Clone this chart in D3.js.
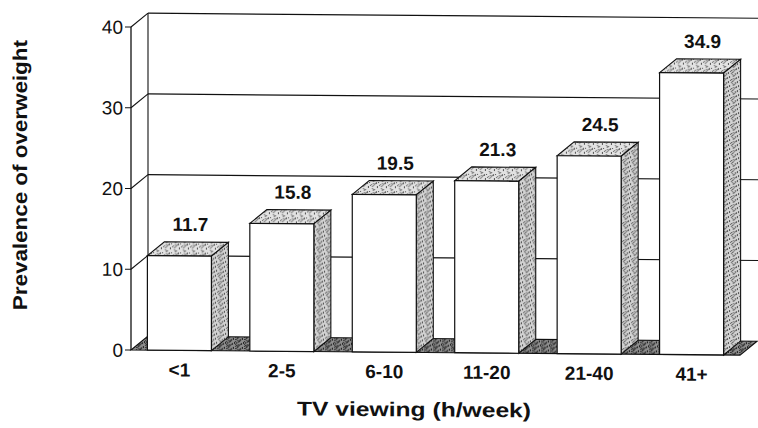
<!DOCTYPE html>
<html>
<head>
<meta charset="utf-8">
<script src="https://cdn.jsdelivr.net/npm/d3@7"></script>
<style>
  body { margin: 0; background: #fff; }
  text { font-family: "Liberation Sans", Arial, sans-serif; fill: #111; }
</style>
</head>
<body>
<svg id="chart" width="758" height="428"></svg>
<script>
// data
var categories = ["<1", "2-5", "6-10", "11-20", "21-40", "41+"];
var prevalence = [11.7, 15.8, 19.5, 21.3, 24.5, 34.9];
var yTicks = [0, 10, 20, 30, 40];

var svg = d3.select("#chart"),
    depth = {x: 17, y: -14},
    front = {left: 131, right: 740, bottom: 350, top: 27};

var x = d3.scaleBand()
    .domain(categories)
    .range([front.left, front.right])
    .paddingInner(0.375)
    .paddingOuter(0.16);
var y = d3.scaleLinear()
    .domain([0, 40])
    .range([front.bottom, front.top]);

// stipple patterns (deterministic dot texture, like the scanned print)
var defs = svg.append("defs");
function stipple(id, base, n, dot) {
    var s = 9;
    var p = defs.append("pattern")
        .attr("id", id)
        .attr("patternUnits", "userSpaceOnUse")
        .attr("width", s).attr("height", s);
    p.append("rect").attr("width", s).attr("height", s).attr("fill", base);
    for (var i = 0; i < n; i++) {
        p.append("rect")
            .attr("x", (i * 5 + (i * i) % 7) % s)
            .attr("y", (i * 7 + (i * 3) % 4) % s)
            .attr("width", 1).attr("height", 1)
            .attr("fill", dot);
    }
}
stipple("sideTex", "#d2d2d2", 22, "#555");
stipple("topTex", "#e2e2e2", 16, "#555");
stipple("floorTex", "#8e8e8e", 32, "#222");

// scanned page is slightly sheared: horizontals drop ~5px across the width
var g = svg.append("g")
    .attr("transform", "translate(131,0) skewY(0.48) translate(-131,0)");

function poly(pts) { return "M" + pts.map(function (p) { return p.join(","); }).join("L") + "Z"; }

// back wall gridlines + side-wall connectors
var bx0 = front.left + depth.x;
g.selectAll(".grid").data(yTicks.slice(1)).enter().append("line")
    .attr("class", "grid")
    .attr("x1", bx0).attr("x2", 758)
    .attr("y1", function (d) { return y(d) + depth.y; })
    .attr("y2", function (d) { return y(d) + depth.y; })
    .attr("stroke", "#111").attr("stroke-width", 1.2);
g.selectAll(".conn").data(yTicks.slice(1)).enter().append("line")
    .attr("class", "conn")
    .attr("x1", front.left).attr("x2", bx0)
    .attr("y1", function (d) { return y(d); })
    .attr("y2", function (d) { return y(d) + depth.y; })
    .attr("stroke", "#111").attr("stroke-width", 1.1);
g.append("line")
    .attr("x1", bx0).attr("x2", bx0)
    .attr("y1", y(40) + depth.y).attr("y2", y(0) + depth.y)
    .attr("stroke", "#111").attr("stroke-width", 1.1);

// floor
g.append("path")
    .attr("d", poly([[front.left, y(0)], [front.right, y(0)],
        [front.right + depth.x, y(0) + depth.y], [bx0, y(0) + depth.y]]))
    .attr("fill", "url(#floorTex)")
    .attr("stroke", "#111").attr("stroke-width", 1.1);

// front y axis
g.append("line")
    .attr("x1", front.left).attr("x2", front.left)
    .attr("y1", y(40)).attr("y2", y(0))
    .attr("stroke", "#111").attr("stroke-width", 1.3);
g.selectAll(".tick").data(yTicks).enter().append("line")
    .attr("class", "tick")
    .attr("x1", front.left - 6).attr("x2", front.left)
    .attr("y1", function (d) { return y(d); })
    .attr("y2", function (d) { return y(d); })
    .attr("stroke", "#111").attr("stroke-width", 1.1);
g.selectAll(".tickLabel").data(yTicks).enter().append("text")
    .attr("class", "tickLabel")
    .attr("x", front.left - 8)
    .attr("y", function (d) { return y(d); })
    .attr("dy", "0.36em")
    .attr("text-anchor", "end")
    .style("font-size", "19px")
    .text(function (d) { return d; });

// 3D bars
var bw = x.bandwidth();
var bars = g.selectAll(".bar").data(prevalence).enter().append("g")
    .attr("class", "bar");
bars.append("path")
    .attr("d", function (d, i) {
        var l = x(categories[i]), t = y(d);
        return poly([[l, t], [l + bw, t], [l + bw + depth.x, t + depth.y], [l + depth.x, t + depth.y]]);
    })
    .attr("fill", "url(#topTex)").attr("stroke", "#111").attr("stroke-width", 1.1);
bars.append("path")
    .attr("d", function (d, i) {
        var r = x(categories[i]) + bw, t = y(d), b = y(0);
        return poly([[r, t], [r + depth.x, t + depth.y], [r + depth.x, b + depth.y], [r, b]]);
    })
    .attr("fill", "url(#sideTex)").attr("stroke", "#111").attr("stroke-width", 1.1);
bars.append("rect")
    .attr("x", function (d, i) { return x(categories[i]); })
    .attr("y", function (d) { return y(d); })
    .attr("width", bw)
    .attr("height", function (d) { return y(0) - y(d); })
    .attr("fill", "#fff").attr("stroke", "#111").attr("stroke-width", 1.2);

// value labels
bars.append("text")
    .attr("x", function (d, i) { return x(categories[i]) + bw / 2 + 11; })
    .attr("y", function (d) { return y(d) + depth.y - 11; })
    .attr("text-anchor", "middle")
    .style("font-size", "19px").style("font-weight", "bold")
    .text(function (d) { return d.toFixed(1); });

// category labels
g.selectAll(".cat").data(categories).enter().append("text")
    .attr("class", "cat")
    .attr("x", function (d) { return x(d) + bw / 2; })
    .attr("y", front.bottom + 26)
    .attr("text-anchor", "middle")
    .style("font-size", "19px").style("font-weight", "bold")
    .text(function (d) { return d; });

// axis titles
g.append("text")
    .attr("x", 414).attr("y", 414)
    .attr("text-anchor", "middle")
    .attr("textLength", 234).attr("lengthAdjust", "spacingAndGlyphs")
    .style("font-size", "20px").style("font-weight", "bold")
    .text("TV viewing (h/week)");
g.append("text")
    .attr("transform", "translate(27,176) rotate(-90)")
    .attr("text-anchor", "middle")
    .attr("textLength", 270).attr("lengthAdjust", "spacingAndGlyphs")
    .style("font-size", "20px").style("font-weight", "bold")
    .text("Prevalence of overweight");
</script>
</body>
</html>
